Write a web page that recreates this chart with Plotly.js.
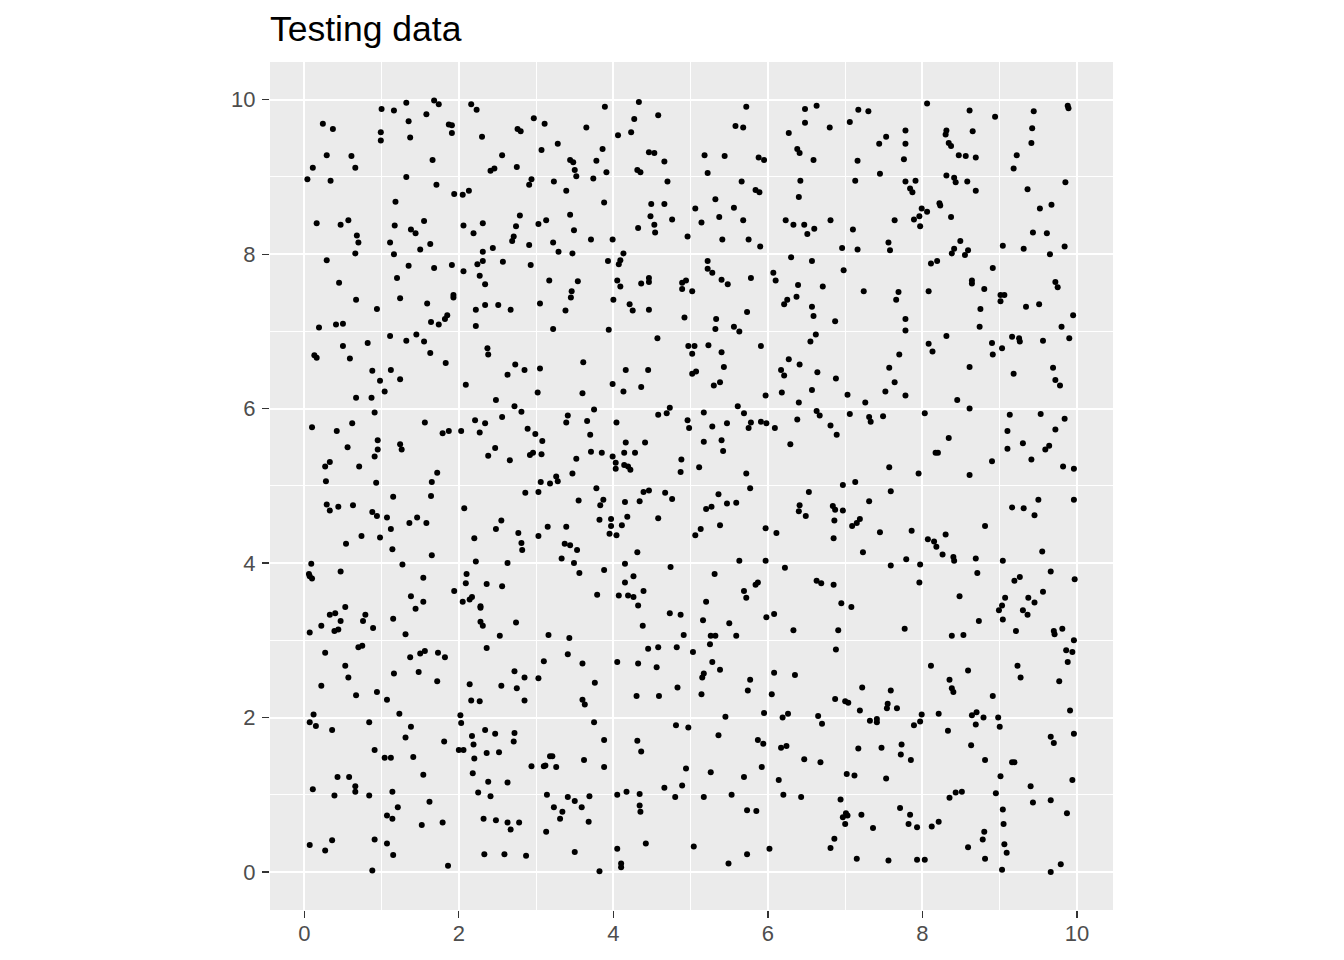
<!DOCTYPE html>
<html>
<head>
<meta charset="utf-8">
<script src="https://cdn.plot.ly/plotly-3.0.1.min.js"></script>
<style>
html, body { margin: 0; padding: 0; background: #ffffff; }
#plot { width: 1344px; height: 960px; }
</style>
</head>
<body>
<div id="plot"></div>
<script>
const chartTitle = "Testing data";
const xTickValues = [0, 2, 4, 6, 8, 10];
const yTickValues = [0, 2, 4, 6, 8, 10];

// [x, y] pairs
const testingPoints = [
[1.00,9.88],[1.16,9.86],[1.32,9.96],[1.68,9.99],[1.74,9.94],[2.16,9.94],[2.23,9.87],[1.58,9.81],[0.24,9.69],[0.37,9.62],
[1.35,9.72],[1.87,9.68],[1.91,9.67],[1.91,9.57],[0.99,9.58],[0.99,9.47],[1.37,9.51],[2.30,9.52],[2.97,9.76],[3.11,9.69],
[2.76,9.62],[2.80,9.59],[3.07,9.35],[2.56,9.28],[0.29,9.28],[0.61,9.27],[0.11,9.12],[0.66,9.12],[1.66,9.22],[2.41,9.08],
[2.46,9.11],[2.75,9.13],[0.04,8.97],[0.34,8.95],[1.32,9.00],[2.94,8.97],[2.91,8.90],[1.71,8.90],[1.94,8.78],[2.05,8.77],
[2.13,8.82],[1.18,8.68],[0.16,8.40],[0.47,8.38],[0.57,8.44],[0.68,8.24],[0.70,8.15],[0.66,8.01],[0.29,7.92],[1.17,8.37],
[1.38,8.32],[1.44,8.27],[1.55,8.43],[1.11,8.15],[1.16,8.00],[1.50,8.06],[1.63,8.13],[1.35,7.85],[1.68,7.82],[1.91,7.86],
[2.06,8.37],[2.19,8.27],[2.31,8.40],[2.31,8.03],[2.44,8.08],[2.24,7.87],[2.31,7.91],[2.06,7.78],[2.57,7.90],[2.74,8.36],
[2.79,8.50],[2.69,8.17],[2.71,8.23],[2.91,8.12],[3.03,8.39],[3.13,8.44],[2.93,7.86],
[3.89,9.91],[4.33,9.97],[4.27,9.75],[4.58,9.80],[3.65,9.64],[4.06,9.54],[4.23,9.58],[3.28,9.43],[3.86,9.36],[3.44,9.22],
[3.48,9.19],[3.78,9.21],[3.50,9.09],[3.52,9.01],[3.91,9.06],[3.74,8.98],[3.23,8.94],[3.39,8.82],[4.46,9.32],[4.53,9.31],
[4.66,9.20],[4.31,9.09],[4.35,9.06],[4.70,8.94],[3.88,8.67],[3.44,8.51],[3.49,8.31],[3.22,8.15],[3.29,8.03],[3.47,8.01],
[3.71,8.19],[3.99,8.19],[3.93,7.91],[4.13,8.01],[4.09,7.92],[4.07,7.87],[4.49,8.65],[4.66,8.65],[4.48,8.49],[4.53,8.38],
[4.54,8.28],[4.76,8.45],[4.32,8.34],[4.96,8.23],[5.06,8.59],[5.14,8.41],[5.32,8.71],[5.37,8.48],[5.56,8.60],[5.41,8.19],
[5.68,8.44],[5.75,8.19],[5.90,8.10],[5.66,8.94],[5.84,8.83],[5.89,8.80],[5.18,9.28],[5.22,9.05],[5.44,9.27],[5.88,9.25],
[5.95,9.22],[5.58,9.66],[5.68,9.64],[5.72,9.91],[6.48,9.88],[6.63,9.92],[6.48,9.70],[6.27,9.57],[6.80,9.64],[6.38,9.36],
[6.41,9.31],[6.59,9.22],[6.42,8.95],[6.40,8.74],[6.23,8.44],[6.33,8.38],[6.47,8.38],[6.60,8.33],[6.51,8.26],[6.81,8.44],
[5.22,7.91],[5.22,7.81],[5.28,7.76],[6.30,7.96],[6.57,7.91],[6.07,7.76],
[7.17,9.87],[7.30,9.85],[7.06,9.71],[8.06,9.95],[8.61,9.86],[8.94,9.78],[9.44,9.85],[9.88,9.92],[9.89,9.89],[7.53,9.52],
[7.44,9.43],[7.78,9.60],[7.78,9.43],[7.76,9.23],[7.16,9.21],[7.45,9.04],[7.13,8.95],[7.78,8.94],[7.91,8.95],[7.84,8.85],
[7.87,8.80],[8.31,9.60],[8.30,9.55],[8.34,9.44],[8.37,9.40],[8.47,9.28],[8.56,9.27],[8.69,9.25],[8.65,9.59],[8.31,9.02],
[8.41,8.99],[8.43,8.93],[8.58,8.94],[8.69,8.82],[9.22,9.28],[9.18,9.11],[9.42,9.63],[9.41,9.44],[9.85,8.93],[9.36,8.84],
[9.52,8.59],[9.67,8.64],[9.43,8.28],[9.61,8.27],[9.84,8.10],[9.65,8.00],[9.04,8.11],[9.31,8.07],[8.91,7.82],[7.10,8.32],
[7.64,8.44],[6.96,8.08],[7.16,8.06],[7.56,8.15],[7.58,8.05],[6.98,7.79],[7.99,8.59],[8.06,8.55],[7.96,8.49],[7.89,8.45],
[7.97,8.36],[8.22,8.66],[8.23,8.63],[8.37,8.48],[8.49,8.17],[8.41,8.07],[8.38,8.01],[8.59,8.05],[8.55,7.99],[8.11,7.88],
[8.19,7.91],
[0.45,7.63],[1.20,7.69],[0.67,7.41],[1.24,7.43],[0.94,7.29],[0.19,7.05],[0.41,7.09],[0.50,7.10],[1.59,7.36],[1.93,7.47],
[1.93,7.44],[1.85,7.21],[1.82,7.16],[1.64,7.12],[1.74,7.09],[2.27,7.72],[2.34,7.61],[2.22,7.28],[2.34,7.34],[2.51,7.34],
[2.67,7.28],[2.22,7.07],[3.05,7.36],[3.17,7.66],[1.11,6.94],[1.32,6.88],[1.45,6.96],[1.55,6.87],[1.63,6.72],[1.83,6.59],
[0.82,6.85],[0.50,6.81],[0.59,6.65],[0.13,6.69],[0.16,6.66],[0.88,6.49],[1.12,6.50],[0.98,6.36],[1.24,6.38],[1.04,6.22],
[0.67,6.14],[0.87,6.14],[0.91,5.95],[2.37,6.78],[2.38,6.70],[2.09,6.31],[2.63,6.44],[2.73,6.57],[2.85,6.50],[3.05,6.52],
[3.02,6.21],[2.48,6.11],[2.72,6.03],[2.81,5.96],[2.56,5.89],[2.21,5.85],[2.34,5.81],[2.27,5.69],[2.03,5.71],[1.79,5.68],
[1.87,5.71],[1.56,5.82],[0.10,5.76],[0.42,5.71],[0.62,5.81],[0.56,5.50],[0.95,5.59],[0.95,5.47],[0.91,5.38],[1.24,5.54],
[1.26,5.47],[0.27,5.25],[0.33,5.31],[0.71,5.25],[0.28,5.06],[0.93,5.04],[1.65,5.05],[1.72,5.17],[2.89,5.74],[2.99,5.67],
[3.08,5.58],[2.47,5.49],[2.38,5.39],[2.66,5.33],[2.92,5.40],[2.96,5.43],[3.07,5.41],[3.06,5.05],[3.18,5.03],
[3.54,7.65],[3.46,7.52],[3.45,7.44],[3.38,7.27],[3.22,7.03],[4.05,7.66],[4.09,7.58],[4.00,7.41],[4.36,7.62],[4.46,7.69],
[4.46,7.64],[4.21,7.35],[4.25,7.27],[4.46,7.28],[3.94,7.02],[4.89,7.63],[4.94,7.66],[4.89,7.55],[5.02,7.52],[5.40,7.67],
[5.48,7.61],[5.78,7.69],[4.92,7.18],[5.33,7.16],[5.32,7.03],[5.56,7.06],[5.63,7.00],[5.73,7.25],[6.10,7.66],[6.39,7.60],
[6.71,7.58],[6.25,7.41],[6.21,7.35],[6.37,7.45],[6.57,7.32],[6.59,7.20],[4.57,6.91],[4.97,6.81],[5.05,6.81],[5.02,6.71],
[5.23,6.82],[5.40,6.73],[5.43,6.54],[5.02,6.45],[5.07,6.48],[5.30,6.30],[5.38,6.34],[5.91,6.81],[6.62,6.96],[6.55,6.87],
[6.27,6.64],[6.41,6.57],[6.17,6.50],[6.21,6.43],[6.64,6.47],[6.18,6.21],[6.57,6.24],[3.61,6.60],[3.60,6.20],[4.16,6.50],
[4.45,6.50],[3.99,6.32],[4.13,6.22],[4.36,6.28],[5.97,6.17],[6.40,6.08],[3.75,5.99],[3.41,5.91],[3.39,5.82],[3.66,5.84],
[3.70,5.66],[4.04,5.82],[4.58,5.92],[4.69,5.94],[4.73,6.01],[4.96,5.85],[4.98,5.75],[5.17,5.95],[5.28,5.77],[5.47,5.81],
[5.61,6.03],[5.69,5.94],[5.78,5.82],[5.75,5.75],[5.91,5.83],[5.98,5.81],[6.09,5.75],[6.38,5.86],[6.63,5.97],[6.67,5.91],
[6.81,5.78],[6.29,5.54],[5.17,5.57],[5.40,5.59],[5.42,5.45],[4.88,5.34],[4.87,5.18],[5.11,5.24],[5.72,5.16],[3.71,5.44],
[3.85,5.43],[3.52,5.35],[3.47,5.16],[3.26,5.12],[3.28,5.06],[3.99,5.38],[4.03,5.30],[4.03,5.22],[4.16,5.56],[4.14,5.43],
[4.28,5.43],[4.41,5.56],[4.14,5.27],[4.19,5.25],[4.22,5.21],
[7.24,7.52],[7.69,7.51],[7.66,7.41],[8.08,7.52],[6.87,7.13],[7.78,7.16],[7.78,7.01],[8.64,7.66],[8.64,7.62],[8.80,7.55],
[8.75,7.29],[8.74,7.06],[9.01,7.47],[9.06,7.47],[9.01,7.39],[9.34,7.32],[9.51,7.35],[9.72,7.64],[9.75,7.57],[9.95,7.21],
[9.80,7.06],[9.90,6.91],[9.56,6.88],[9.16,6.93],[9.25,6.91],[9.26,6.87],[8.90,6.85],[9.03,6.78],[8.91,6.70],[8.31,6.94],
[8.08,6.84],[8.13,6.74],[8.61,6.54],[9.18,6.45],[9.69,6.53],[9.72,6.37],[9.78,6.30],[7.70,6.70],[7.57,6.53],[6.88,6.39],
[7.64,6.34],[7.52,6.22],[7.78,6.17],[7.03,6.18],[7.26,6.08],[8.45,6.11],[8.61,6.00],[7.06,5.93],[7.31,5.89],[7.33,5.83],
[7.49,5.90],[8.03,5.94],[6.89,5.66],[8.34,5.62],[8.17,5.43],[8.20,5.43],[9.13,5.92],[9.53,5.93],[9.84,5.87],[9.72,5.73],
[9.10,5.71],[9.10,5.48],[9.30,5.55],[9.59,5.47],[9.64,5.52],[9.41,5.34],[8.90,5.32],[7.57,5.24],[7.95,5.16],[8.61,5.14],
[9.82,5.25],[9.96,5.22],[7.13,5.05],[6.97,5.01],
[1.15,4.86],[1.64,4.87],[0.29,4.76],[0.33,4.68],[0.44,4.73],[0.63,4.75],[0.88,4.66],[0.94,4.61],[1.07,4.59],[1.36,4.52],
[1.46,4.59],[1.58,4.52],[1.12,4.44],[0.74,4.35],[0.98,4.33],[0.54,4.25],[1.14,4.18],[1.65,4.10],[2.07,4.71],[2.86,4.91],
[3.03,4.92],[2.55,4.55],[2.48,4.44],[2.77,4.39],[2.81,4.26],[2.82,4.17],[3.03,4.35],[3.15,4.47],[2.20,4.32],[2.22,4.02],
[2.63,4.00],[0.09,3.99],[0.06,3.86],[0.07,3.83],[0.10,3.80],[0.47,3.89],[1.27,3.98],[1.54,3.81],[1.94,3.64],[1.38,3.57],
[1.54,3.50],[1.44,3.41],[1.15,3.28],[1.31,3.08],[0.53,3.43],[0.33,3.33],[0.40,3.35],[0.79,3.33],[0.47,3.25],[0.76,3.25],
[0.22,3.19],[0.39,3.12],[0.44,3.14],[0.89,3.16],[0.07,3.10],[2.10,3.86],[2.09,3.74],[2.36,3.73],[2.56,3.70],[2.05,3.50],
[2.14,3.53],[2.17,3.56],[2.28,3.44],[2.28,3.42],[2.28,3.24],[2.31,3.19],[2.74,3.23],[2.53,3.06],[3.16,3.07],[0.27,2.84],
[0.70,2.91],[0.75,2.93],[0.53,2.67],[0.57,2.52],[0.22,2.41],[0.67,2.29],[0.94,2.33],[1.16,2.57],[1.37,2.78],[1.50,2.83],
[1.56,2.86],[1.73,2.84],[1.82,2.78],[1.48,2.59],[1.72,2.47],[2.36,2.90],[2.14,2.43],[2.55,2.41],[2.75,2.38],[2.72,2.60],
[2.85,2.52],[3.03,2.51],[3.10,2.73],
[3.78,4.97],[5.77,4.97],[3.55,4.81],[3.83,4.75],[3.87,4.82],[3.82,4.56],[3.97,4.57],[3.97,4.48],[3.95,4.38],[4.04,4.36],
[4.11,4.49],[4.18,4.60],[4.15,4.79],[4.34,4.80],[4.39,4.92],[4.46,4.94],[4.67,4.91],[4.76,4.83],[4.58,4.58],[3.39,4.47],
[3.37,4.25],[3.44,4.23],[3.53,4.17],[3.33,4.06],[3.49,4.00],[3.56,3.87],[3.88,3.91],[4.31,4.14],[4.15,3.99],[4.26,3.83],
[4.15,3.75],[3.79,3.59],[4.07,3.58],[4.19,3.58],[4.26,3.56],[4.39,3.64],[4.32,3.45],[4.74,3.95],[4.73,3.35],[4.87,3.33],
[4.38,3.19],[4.91,3.07],[3.43,3.03],[3.41,2.82],[3.60,2.70],[3.76,2.45],[4.05,2.72],[4.32,2.70],[4.45,2.89],[4.58,2.91],
[4.82,2.91],[4.56,2.65],[4.83,2.39],[4.30,2.28],[4.59,2.28],[5.03,2.85],[5.25,2.95],[5.28,2.72],[5.38,2.62],[5.17,2.57],
[5.15,2.52],[5.14,2.30],[5.26,3.06],[5.32,3.06],[5.16,3.26],[5.50,3.22],[5.59,3.06],[5.20,3.50],[5.31,3.86],[5.69,3.64],
[5.72,3.55],[5.84,3.72],[5.87,3.75],[5.63,4.03],[5.97,4.03],[6.22,3.94],[5.98,3.30],[6.08,3.34],[6.33,3.13],[6.63,3.77],
[6.69,3.74],[5.06,4.36],[5.13,4.44],[5.38,4.49],[5.20,4.70],[5.27,4.73],[5.36,4.89],[5.47,4.77],[5.59,4.78],[5.97,4.45],
[6.11,4.39],[6.53,4.92],[6.41,4.75],[6.40,4.67],[6.49,4.61],[5.77,2.49],[5.74,2.35],[6.08,2.58],[6.35,2.55],[6.05,2.30],
[7.59,4.93],[7.31,4.80],[6.84,4.74],[6.87,4.69],[6.97,4.68],[6.86,4.55],[6.85,4.32],[7.09,4.48],[7.15,4.52],[7.19,4.57],
[7.45,4.40],[7.23,4.14],[7.86,4.42],[7.59,3.97],[7.79,4.05],[7.97,3.98],[7.96,3.75],[8.07,4.31],[8.15,4.28],[8.18,4.21],
[8.30,4.37],[8.26,4.11],[8.40,4.08],[8.41,4.03],[8.69,4.06],[8.81,4.48],[8.71,3.87],[9.04,4.03],[9.16,4.72],[9.31,4.71],
[9.50,4.82],[9.45,4.62],[9.96,4.82],[9.55,4.15],[9.66,3.89],[9.97,3.79],[9.19,3.77],[9.26,3.82],[9.56,3.63],[9.07,3.55],
[9.03,3.45],[8.99,3.39],[9.37,3.55],[9.45,3.49],[9.30,3.39],[9.36,3.33],[9.04,3.27],[9.21,3.12],[9.70,3.12],[9.71,3.08],
[9.81,3.15],[9.96,3.00],[9.86,2.87],[9.94,2.85],[9.88,2.72],[9.77,2.47],[9.23,2.67],[9.27,2.52],[8.48,3.57],[8.73,3.25],
[8.38,3.06],[8.53,3.07],[6.85,3.72],[6.95,3.48],[7.08,3.43],[6.91,3.13],[7.77,3.15],[6.88,2.88],[8.11,2.67],[8.59,2.61],
[8.35,2.49],[8.38,2.38],[8.40,2.33],[7.22,2.39],[7.59,2.35],[8.91,2.28],
[1.07,2.23],[2.16,2.22],[2.27,2.21],[2.85,2.22],[0.12,2.04],[0.07,1.94],[0.15,1.89],[0.36,1.84],[0.84,1.94],[1.23,2.05],
[1.38,1.88],[1.31,1.74],[0.91,1.58],[1.04,1.48],[1.12,1.48],[1.41,1.49],[1.81,1.69],[2.02,2.03],[2.03,1.93],[2.00,1.58],
[2.06,1.58],[2.17,1.76],[2.19,1.65],[2.34,1.84],[2.47,1.79],[2.72,1.80],[2.71,1.69],[2.20,1.47],[2.36,1.54],[2.52,1.55],
[2.18,1.28],[2.38,1.17],[2.63,1.16],[2.25,1.03],[2.41,0.98],[2.94,1.37],[3.10,1.37],[3.12,1.38],[3.18,1.50],[3.14,1.00],
[3.13,0.52],[1.54,1.26],[0.43,1.23],[0.58,1.23],[0.66,1.11],[0.66,1.04],[0.11,1.07],[0.39,0.99],[0.84,0.99],[1.14,1.04],
[1.62,0.91],[1.21,0.84],[1.07,0.73],[1.14,0.69],[1.52,0.61],[1.79,0.64],[2.32,0.69],[2.48,0.67],[2.63,0.64],[2.67,0.55],
[2.78,0.64],[0.07,0.35],[0.27,0.28],[0.36,0.41],[0.91,0.42],[1.07,0.37],[1.15,0.22],[0.88,0.02],[1.86,0.08],[2.33,0.23],
[2.59,0.23],[2.87,0.21],
[3.60,2.23],[3.63,2.17],[3.75,1.94],[3.88,1.71],[3.88,1.36],[3.62,1.45],[3.26,1.36],[3.21,1.50],[4.31,1.70],[4.36,1.56],
[4.81,1.90],[4.97,1.87],[4.94,1.34],[4.66,1.09],[4.89,1.12],[4.80,0.97],[4.05,1.00],[4.17,1.04],[4.34,1.01],[4.34,0.86],
[4.35,0.78],[3.41,0.97],[3.50,0.92],[3.69,0.98],[3.59,0.84],[3.23,0.84],[3.34,0.78],[3.31,0.69],[3.68,0.65],[3.50,0.26],
[3.82,0.01],[4.05,0.30],[4.10,0.11],[4.10,0.06],[4.42,0.37],[5.04,0.33],[5.49,0.11],[5.73,0.23],[6.02,0.30],[6.81,0.31],
[5.17,0.97],[5.53,1.00],[5.73,0.80],[5.85,0.79],[5.26,1.29],[5.69,1.23],[5.92,1.36],[5.36,1.77],[5.45,2.01],[5.95,2.06],
[5.87,1.71],[5.94,1.66],[6.19,2.00],[6.26,2.05],[6.17,1.61],[6.24,1.63],[6.47,1.46],[6.14,1.19],[6.20,1.00],[6.43,0.97],
[6.65,2.02],[6.70,1.92],[6.68,1.42],
[6.87,2.24],[7.00,2.21],[7.04,2.19],[7.19,2.09],[7.55,2.18],[7.54,2.12],[7.67,2.12],[7.99,2.04],[8.21,2.05],[7.32,1.96],
[7.41,1.98],[7.41,1.94],[7.89,1.90],[7.97,1.95],[8.33,1.83],[8.64,2.03],[8.70,2.07],[8.79,2.00],[8.69,1.91],[8.98,2.00],
[9.00,1.88],[9.91,2.09],[9.96,1.79],[9.66,1.75],[9.70,1.67],[7.17,1.60],[7.47,1.61],[7.73,1.65],[7.72,1.52],[7.85,1.45],
[8.63,1.64],[8.81,1.45],[9.16,1.42],[9.19,1.42],[9.01,1.24],[9.40,1.11],[9.94,1.19],[7.02,1.27],[7.12,1.25],[7.53,1.21],
[6.94,0.94],[7.01,0.76],[7.03,0.73],[6.97,0.71],[7.00,0.62],[7.21,0.74],[7.36,0.57],[6.86,0.43],[7.15,0.17],[7.56,0.15],
[7.93,0.16],[8.03,0.16],[7.71,0.83],[7.84,0.74],[7.82,0.62],[7.93,0.58],[8.12,0.59],[8.21,0.65],[8.35,0.96],[8.43,1.03],
[8.51,1.04],[8.95,1.02],[9.04,0.81],[9.05,0.62],[8.80,0.52],[8.78,0.42],[8.59,0.32],[9.06,0.36],[9.09,0.25],[8.81,0.17],
[9.03,0.03],[9.43,0.90],[9.66,0.93],[9.87,0.76],[9.79,0.10],[9.66,0.00]
];

const xValues = testingPoints.map(p => p[0]);
const yValues = testingPoints.map(p => p[1]);

const fontFamily = "Liberation Sans, Arial, Helvetica, sans-serif";

const trace = {
  type: "scatter",
  mode: "markers",
  x: xValues,
  y: yValues,
  marker: { color: "#000000", size: 6, line: { width: 0 } },
  hoverinfo: "skip",
  showlegend: false
};

function axisStyle(vals, range, standoff) {
  return {
    range: range,
    tickmode: "array",
    tickvals: vals,
    ticktext: vals.map(v => String(v)),
    ticks: "outside",
    ticklen: 7,
    tickwidth: 1.3,
    tickcolor: "#333333",
    ticklabelstandoff: standoff,
    tickfont: { family: fontFamily, size: 22, color: "#4D4D4D" },
    showgrid: true,
    gridcolor: "#FFFFFF",
    gridwidth: 2,
    zeroline: false,
    showline: false,
    minor: { tickmode: "array", tickvals: [1, 3, 5, 7, 9], showgrid: true, gridcolor: "#FFFFFF", gridwidth: 1.1, ticks: "" },
    fixedrange: true
  };
}

const layout = {
  width: 1344,
  height: 960,
  margin: { l: 270, r: 231, t: 62, b: 50, pad: 0 },
  paper_bgcolor: "#FFFFFF",
  plot_bgcolor: "#EBEBEB",
  font: { family: fontFamily, color: "#000000" },
  title: {
    text: chartTitle,
    font: { family: fontFamily, size: 35.5, color: "#000000" },
    x: 270 / 1344,
    xref: "container",
    xanchor: "left",
    y: 1 - 29 / 960,
    yref: "container",
    yanchor: "middle"
  },
  xaxis: axisStyle(xTickValues, [-0.444, 10.466], -3),
  yaxis: axisStyle(yTickValues, [-0.492, 10.488], 2)
};

Plotly.newPlot("plot", [trace], layout, { displayModeBar: false, staticPlot: true });
</script>
</body>
</html>
